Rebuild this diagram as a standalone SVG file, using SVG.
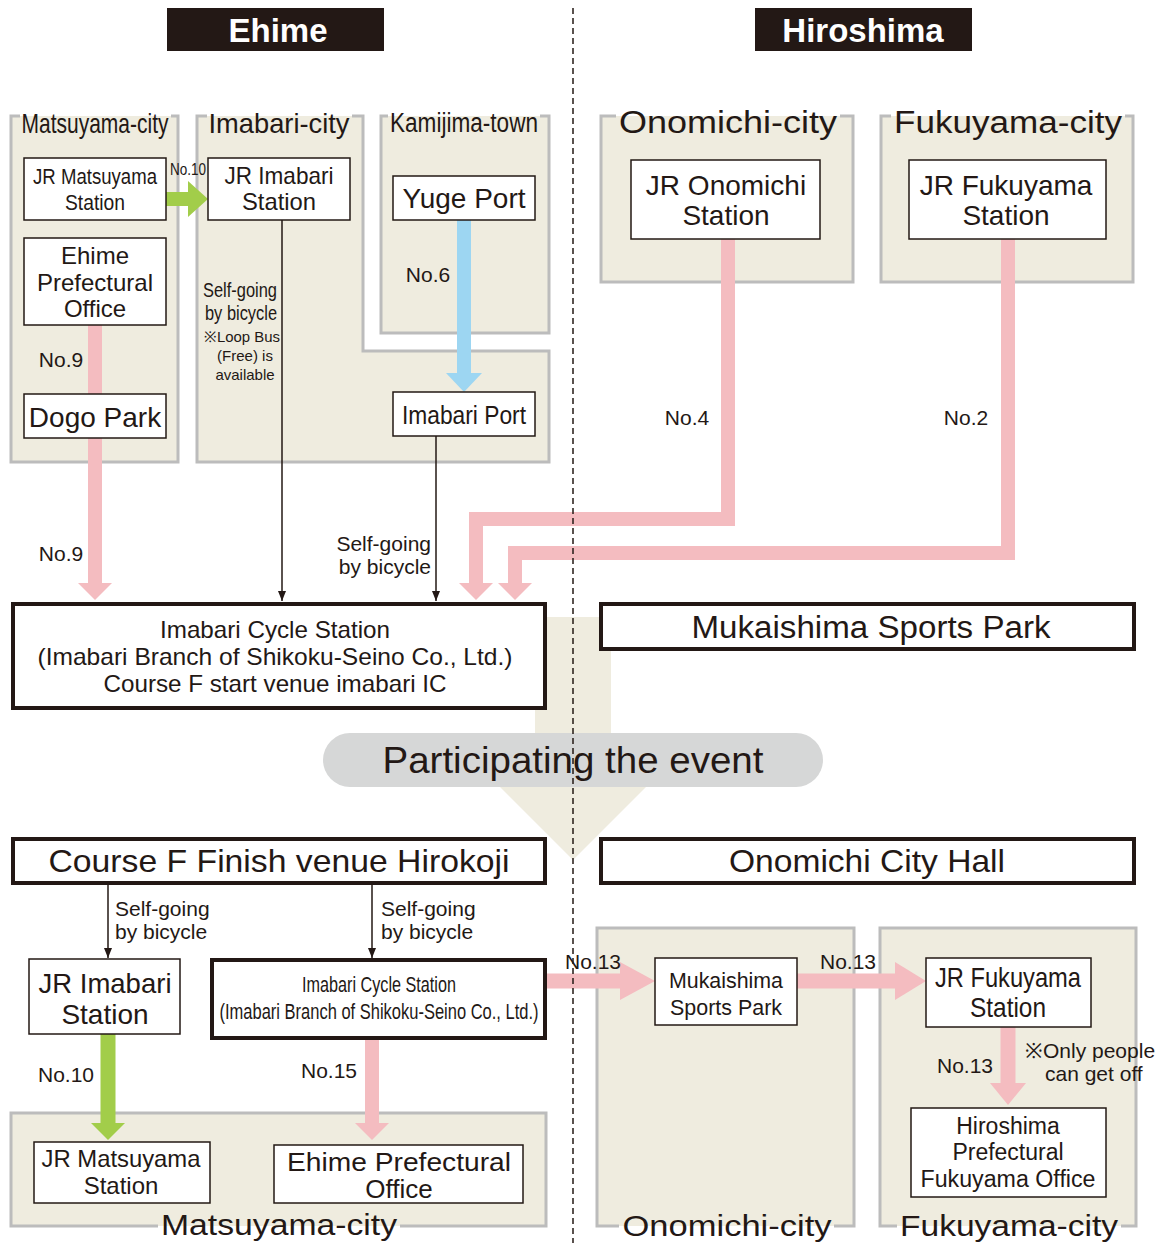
<svg xmlns="http://www.w3.org/2000/svg" width="1171" height="1243" viewBox="0 0 1171 1243">
<defs>
<style>
text{font-family:"Liberation Sans",Arial,sans-serif;fill:#231815;}
.hd{fill:#fff;font-size:33px;font-weight:bold;text-anchor:middle;}
.rf{fill:#efecdf;}
.rb{fill:none;stroke:#bcbcbc;stroke-width:3;}
.bx{fill:#fff;stroke:#231815;stroke-width:1.5;}
.bxt{fill:#fff;stroke:#231815;stroke-width:4;}
.c{text-anchor:middle;}
.e{text-anchor:end;}
.pk{fill:#f4bcc0;}
.pks{fill:none;stroke:#f4bcc0;stroke-width:14;}
.thin{fill:none;stroke:#231815;stroke-width:1.5;marker-end:url(#ah);}
</style>
<marker id="ah" viewBox="0 0 10 8" refX="10" refY="4" markerWidth="10" markerHeight="8" markerUnits="userSpaceOnUse" orient="auto">
<path d="M0,0 L10,4 L0,8 Z" fill="#231815"/>
</marker>
</defs>
<rect width="1171" height="1243" fill="#fff"/>

<!-- headers -->
<g id="hdr-ehime"><rect x="167" y="8" width="217" height="43" fill="#231815"/><text class="hd" x="278" y="42">Ehime</text></g>
<g id="hdr-hiroshima"><rect x="755" y="8" width="217" height="43" fill="#231815"/><text class="hd" x="863" y="42">Hiroshima</text></g>

<!-- regions -->
<g id="reg-matsuyama-top">
<rect class="rf" x="11" y="116" width="167" height="346"/>
<path class="rb" d="M20,116 H11 V462 H178 V116 H171"/>
<text x="95" y="133" class="c" font-size="28" textLength="147" lengthAdjust="spacingAndGlyphs">Matsuyama-city</text>
</g>
<g id="reg-imabari">
<polygon class="rf" points="197,116 363,116 363,351 549,351 549,462 197,462"/>
<path class="rb" d="M207,116 H197 V462 H549 V351 H363 V116 H352"/>
<text x="279" y="133" class="c" font-size="28" textLength="141" lengthAdjust="spacingAndGlyphs">Imabari-city</text>
</g>
<g id="reg-kamijima">
<rect class="rf" x="381" y="116" width="168" height="217"/>
<path class="rb" d="M388,116 H381 V333 H549 V116 H540"/>
<text x="464" y="132" class="c" font-size="27" textLength="148" lengthAdjust="spacingAndGlyphs">Kamijima-town</text>
</g>
<g id="reg-onomichi-top">
<rect class="rf" x="601" y="116" width="252" height="166"/>
<path class="rb" d="M616,116 H601 V282 H853 V116 H840"/>
<text x="728" y="133" class="c" font-size="31" textLength="218" lengthAdjust="spacingAndGlyphs">Onomichi-city</text>
</g>
<g id="reg-fukuyama-top">
<rect class="rf" x="881" y="116" width="252" height="166"/>
<path class="rb" d="M891,116 H881 V282 H1133 V116 H1125"/>
<text x="1008" y="133" class="c" font-size="31" textLength="228" lengthAdjust="spacingAndGlyphs">Fukuyama-city</text>
</g>
<g id="reg-matsuyama-bottom">
<rect class="rf" x="11" y="1113" width="535" height="113"/>
<path class="rb" d="M158,1226 H11 V1113 H546 V1226 H400"/>
<text x="279" y="1235" class="c" font-size="30" textLength="236" lengthAdjust="spacingAndGlyphs">Matsuyama-city</text>
</g>
<g id="reg-onomichi-bottom">
<rect class="rf" x="597" y="928" width="257" height="298"/>
<path class="rb" d="M619,1226 H597 V928 H854 V1226 H834"/>
<text x="727" y="1236" class="c" font-size="30" textLength="209" lengthAdjust="spacingAndGlyphs">Onomichi-city</text>
</g>
<g id="reg-fukuyama-bottom">
<rect class="rf" x="880" y="928" width="256" height="298"/>
<path class="rb" d="M897,1226 H880 V928 H1136 V1226 H1121"/>
<text x="1009" y="1236" class="c" font-size="30" textLength="218" lengthAdjust="spacingAndGlyphs">Fukuyama-city</text>
</g>

<!-- big flow arrow -->
<g id="flow-arrow">
<polygon fill="#efecdf" points="535,617 611,617 611,765 668,765 573,860 478,765 535,765"/>
</g>

<!-- connectors -->
<g id="connectors">
<g id="c-no10-top">
<path d="M166,199 H190" stroke="#a2cd4a" stroke-width="14" fill="none"/>
<polygon fill="#a2cd4a" points="188,181 208,199 188,217"/>
<text x="188" y="175" class="c" font-size="16" textLength="36" lengthAdjust="spacingAndGlyphs">No.10</text>
</g>
<g id="c-no9">
<path class="pks" d="M95,325 V584"/>
<polygon class="pk" points="78,583 112,583 95,600"/>
<text x="61" y="367" class="c" font-size="21">No.9</text>
<text x="61" y="561" class="c" font-size="21">No.9</text>
</g>
<g id="c-no6">
<path d="M464,220 V374" stroke="#9dd6f2" stroke-width="14" fill="none"/>
<polygon fill="#9dd6f2" points="446,373 482,373 464,392"/>
<text x="428" y="282" class="c" font-size="21">No.6</text>
</g>
<g id="c-imabari-bike">
<path class="thin" d="M282,220 V601"/>
<text x="240" y="297" class="c" font-size="20" textLength="74" lengthAdjust="spacingAndGlyphs">Self-going</text>
<text x="241" y="320" class="c" font-size="20" textLength="72" lengthAdjust="spacingAndGlyphs">by bicycle</text>
<text x="242" y="342" class="c" font-size="15" textLength="76" lengthAdjust="spacingAndGlyphs">※Loop Bus</text>
<text x="245" y="361" class="c" font-size="15">(Free) is</text>
<text x="245" y="380" class="c" font-size="15">available</text>
</g>
<g id="c-port-bike">
<path class="thin" d="M436,436 V601"/>
<text x="431" y="551" class="e" font-size="21">Self-going</text>
<text x="431" y="574" class="e" font-size="21">by bicycle</text>
</g>
<g id="c-no4">
<path class="pks" d="M728,239 V519 H476 V584"/>
<polygon class="pk" points="459,583 493,583 476,600"/>
<text x="687" y="425" class="c" font-size="21">No.4</text>
</g>
<g id="c-no2">
<path class="pks" d="M1008,239 V553 H515 V584"/>
<polygon class="pk" points="498,583 532,583 515,600"/>
<text x="966" y="425" class="c" font-size="21">No.2</text>
</g>
<g id="c-bike-left">
<path class="thin" d="M108,883 V958"/>
<text x="115" y="916" font-size="21">Self-going</text>
<text x="115" y="939" font-size="21">by bicycle</text>
</g>
<g id="c-bike-right">
<path class="thin" d="M372,883 V958"/>
<text x="381" y="916" font-size="21">Self-going</text>
<text x="381" y="939" font-size="21">by bicycle</text>
</g>
<g id="c-no10-bottom">
<path d="M108,1034 V1124" stroke="#a2cd4a" stroke-width="15" fill="none"/>
<polygon fill="#a2cd4a" points="91,1123 125,1123 108,1140"/>
<text x="66" y="1082" class="c" font-size="21">No.10</text>
</g>
<g id="c-no15">
<path class="pks" d="M372,1039 V1124"/>
<polygon class="pk" points="355,1123 389,1123 372,1140"/>
<text x="329" y="1078" class="c" font-size="21">No.15</text>
</g>
<g id="c-no13-a">
<path d="M546,981 H622" stroke="#f4bcc0" stroke-width="15" fill="none"/>
<polygon class="pk" points="620,962 655,981 620,1000"/>
<text x="593" y="969" class="c" font-size="21">No.13</text>
</g>
<g id="c-no13-b">
<path d="M797,981 H897" stroke="#f4bcc0" stroke-width="15" fill="none"/>
<polygon class="pk" points="895,962 926,981 895,1000"/>
<text x="848" y="969" class="c" font-size="21">No.13</text>
</g>
<g id="c-no13-c">
<path d="M1008,1027 V1085" stroke="#f4bcc0" stroke-width="15" fill="none"/>
<polygon class="pk" points="990,1083 1026,1083 1008,1105"/>
<text x="965" y="1073" class="c" font-size="21">No.13</text>
<text x="1025" y="1058" font-size="21">※Only people</text>
<text x="1045" y="1081" font-size="21">can get off</text>
</g>
</g>

<!-- nodes -->
<g id="n-jr-matsuyama-top"><rect class="bx" x="24" y="158" width="142" height="62"/>
<text x="95" y="184" class="c" font-size="22" textLength="124" lengthAdjust="spacingAndGlyphs">JR Matsuyama</text>
<text x="95" y="210" class="c" font-size="22" textLength="60" lengthAdjust="spacingAndGlyphs">Station</text></g>
<g id="n-ehime-pref-top"><rect class="bx" x="24" y="238" width="142" height="87"/>
<text x="95" y="264" class="c" font-size="24">Ehime</text>
<text x="95" y="291" class="c" font-size="24">Prefectural</text>
<text x="95" y="317" class="c" font-size="24">Office</text></g>
<g id="n-dogo"><rect class="bx" x="24" y="394" width="142" height="44"/>
<text x="95" y="427" class="c" font-size="28">Dogo Park</text></g>
<g id="n-jr-imabari-top"><rect class="bx" x="208" y="158" width="142" height="62"/>
<text x="279" y="184" class="c" font-size="24" textLength="109" lengthAdjust="spacingAndGlyphs">JR Imabari</text>
<text x="279" y="210" class="c" font-size="24" textLength="74" lengthAdjust="spacingAndGlyphs">Station</text></g>
<g id="n-yuge"><rect class="bx" x="393" y="176" width="142" height="44"/>
<text x="464" y="208" class="c" font-size="28">Yuge Port</text></g>
<g id="n-imabari-port"><rect class="bx" x="393" y="392" width="142" height="44"/>
<text x="464" y="424" class="c" font-size="26" textLength="124" lengthAdjust="spacingAndGlyphs">Imabari Port</text></g>
<g id="n-jr-onomichi"><rect class="bx" x="631" y="160" width="189" height="79"/>
<text x="726" y="195" class="c" font-size="28">JR Onomichi</text>
<text x="726" y="225" class="c" font-size="28">Station</text></g>
<g id="n-jr-fukuyama-top"><rect class="bx" x="909" y="160" width="197" height="79"/>
<text x="1006" y="195" class="c" font-size="28">JR Fukuyama</text>
<text x="1006" y="225" class="c" font-size="28">Station</text></g>
<g id="n-cycle-start"><rect class="bxt" x="13" y="604" width="532" height="104"/>
<text x="275" y="638" class="c" font-size="24" textLength="230" lengthAdjust="spacingAndGlyphs">Imabari Cycle Station</text>
<text x="275" y="665" class="c" font-size="24" textLength="475" lengthAdjust="spacingAndGlyphs">(Imabari Branch of Shikoku-Seino Co., Ltd.)</text>
<text x="275" y="692" class="c" font-size="24" textLength="343" lengthAdjust="spacingAndGlyphs">Course F start venue imabari IC</text></g>
<g id="n-mukaishima-top"><rect class="bxt" x="601" y="604" width="533" height="45"/>
<text x="871" y="638" class="c" font-size="31" textLength="359" lengthAdjust="spacingAndGlyphs">Mukaishima Sports Park</text></g>
<g id="n-participating"><rect x="323" y="733" width="500" height="54" rx="27" fill="#d6d7d7"/>
<text x="573" y="773" class="c" font-size="36" textLength="381" lengthAdjust="spacingAndGlyphs">Participating the event</text></g>
<g id="n-finish"><rect class="bxt" x="13" y="839" width="532" height="44"/>
<text x="279" y="872" class="c" font-size="32" textLength="461" lengthAdjust="spacingAndGlyphs">Course F Finish venue Hirokoji</text></g>
<g id="n-onomichi-hall"><rect class="bxt" x="601" y="839" width="533" height="44"/>
<text x="867" y="872" class="c" font-size="32" textLength="276" lengthAdjust="spacingAndGlyphs">Onomichi City Hall</text></g>
<g id="n-jr-imabari-bottom"><rect class="bx" x="29" y="959" width="151" height="75"/>
<text x="105" y="993" class="c" font-size="28" textLength="133" lengthAdjust="spacingAndGlyphs">JR Imabari</text>
<text x="105" y="1024" class="c" font-size="28">Station</text></g>
<g id="n-cycle-bottom"><rect class="bxt" x="212" y="960" width="333" height="78"/>
<text x="379" y="992" class="c" font-size="22" textLength="154" lengthAdjust="spacingAndGlyphs">Imabari Cycle Station</text>
<text x="379" y="1019" class="c" font-size="22" textLength="319" lengthAdjust="spacingAndGlyphs">(Imabari Branch of Shikoku-Seino Co., Ltd.)</text></g>
<g id="n-jr-matsuyama-bottom"><rect class="bx" x="34" y="1142" width="176" height="61"/>
<text x="121" y="1167" class="c" font-size="24" textLength="159" lengthAdjust="spacingAndGlyphs">JR Matsuyama</text>
<text x="121" y="1194" class="c" font-size="24">Station</text></g>
<g id="n-ehime-pref-bottom"><rect class="bx" x="274" y="1145" width="249" height="58"/>
<text x="399" y="1171" class="c" font-size="26" textLength="224" lengthAdjust="spacingAndGlyphs">Ehime Prefectural</text>
<text x="399" y="1198" class="c" font-size="26">Office</text></g>
<g id="n-mukaishima-bottom"><rect class="bx" x="655" y="958" width="142" height="67"/>
<text x="726" y="988" class="c" font-size="22" textLength="114" lengthAdjust="spacingAndGlyphs">Mukaishima</text>
<text x="726" y="1015" class="c" font-size="22" textLength="112" lengthAdjust="spacingAndGlyphs">Sports Park</text></g>
<g id="n-jr-fukuyama-bottom"><rect class="bx" x="926" y="958" width="165" height="69"/>
<text x="1008" y="987" class="c" font-size="28" textLength="146" lengthAdjust="spacingAndGlyphs">JR Fukuyama</text>
<text x="1008" y="1017" class="c" font-size="28" textLength="76" lengthAdjust="spacingAndGlyphs">Station</text></g>
<g id="n-hiroshima-office"><rect class="bx" x="911" y="1108" width="195" height="89"/>
<text x="1008" y="1134" class="c" font-size="23">Hiroshima</text>
<text x="1008" y="1160" class="c" font-size="23">Prefectural</text>
<text x="1008" y="1187" class="c" font-size="23" textLength="175" lengthAdjust="spacingAndGlyphs">Fukuyama Office</text></g>

<!-- divider -->
<line id="divider" x1="573" y1="8" x2="573" y2="1243" stroke="#231815" stroke-width="1.5" stroke-dasharray="6,4"/>
</svg>
